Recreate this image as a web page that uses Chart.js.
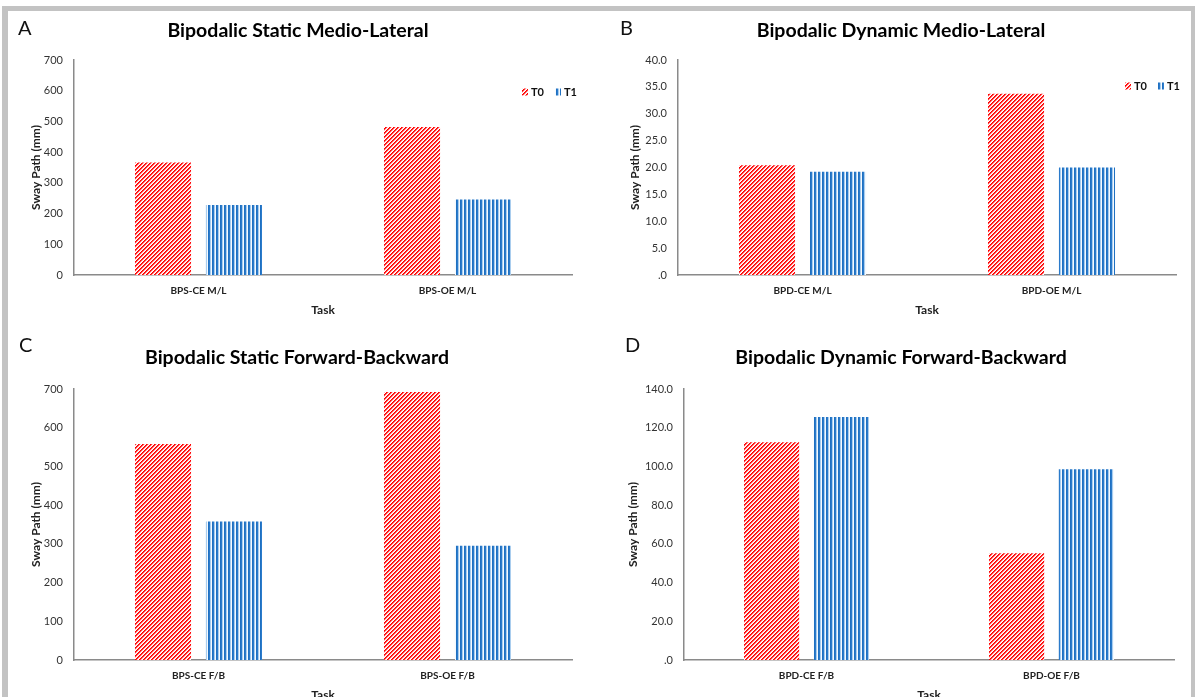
<!DOCTYPE html>
<html><head><meta charset="utf-8">
<script src="https://cdn.jsdelivr.net/npm/chart.js@4.4.0/dist/chart.umd.min.js"></script>
<style>
html,body{margin:0;padding:0;background:#fff;}
body{width:1196px;height:697px;overflow:hidden;position:relative;font-family:Lato,sans-serif;}
canvas{position:absolute;}
.letter{position:absolute;font-size:20px;color:#111;line-height:1;font-family:Lato,sans-serif;}
.frame{position:absolute;background:#c3c3c3;}
</style></head><body>
<canvas id="cA" width="598" height="330" style="left:0;top:0;width:598px;height:330px"></canvas>
<canvas id="cB" width="598" height="330" style="left:598px;top:0;width:598px;height:330px"></canvas>
<canvas id="cC" width="598" height="400" style="left:0;top:330px;width:598px;height:400px"></canvas>
<canvas id="cD" width="598" height="400" style="left:598px;top:330px;width:598px;height:400px"></canvas>
<div class="letter" style="left:18px;top:17px">A</div>
<div class="letter" style="left:620px;top:17px">B</div>
<div class="letter" style="left:19px;top:334px">C</div>
<div class="letter" style="left:625px;top:334px">D</div>
<div class="frame" style="left:2px;top:6px;width:1193px;height:5px"></div>
<div class="frame" style="left:2px;top:6px;width:6px;height:691px"></div>
<div class="frame" style="left:1191px;top:6px;width:4px;height:691px"></div>
<script>
// ---- data ----
const seriesNames = ['T0', 'T1'];

const titleA = 'Bipodalic Static Medio-Lateral';
const catsA = ['BPS-CE M/L', 'BPS-OE M/L'];
const t0A = [366, 482];
const t1A = [228, 246];
const yTicksA = ['0', '100', '200', '300', '400', '500', '600', '700'];

const titleB = 'Bipodalic Dynamic Medio-Lateral';
const catsB = ['BPD-CE M/L', 'BPD-OE M/L'];
const t0B = [20.4, 33.7];
const t1B = [19.2, 20.0];
const yTicksB = ['.0', '5.0', '10.0', '15.0', '20.0', '25.0', '30.0', '35.0', '40.0'];

const titleC = 'Bipodalic Static Forward-Backward';
const catsC = ['BPS-CE F/B', 'BPS-OE F/B'];
const t0C = [558, 692];
const t1C = [358, 295];
const yTicksC = ['0', '100', '200', '300', '400', '500', '600', '700'];

const titleD = 'Bipodalic Dynamic Forward-Backward';
const catsD = ['BPD-CE F/B', 'BPD-OE F/B'];
const t0D = [112.5, 55.2];
const t1D = [125.5, 98.5];
const yTicksD = ['.0', '20.0', '40.0', '60.0', '80.0', '100.0', '120.0', '140.0'];

const axisTitleY = 'Sway Path (mm)';
const axisTitleX = 'Task';

// ---- patterns ----
function makeTile(w, h, fn) {
  const c = document.createElement('canvas');
  c.width = w; c.height = h;
  const x = c.getContext('2d');
  for (let i = 0; i < w; i++) for (let j = 0; j < h; j++) { x.fillStyle = fn(i, j); x.fillRect(i, j, 1, 1); }
  return x.createPattern(c, 'repeat');
}
const redCols = ['#ff0000', '#ff3535', '#ffd2d2', '#ffffff'];
const redPat = makeTile(4, 4, (i, j) => redCols[(i + j) % 4]);
const blueCols = ['#1f70c1', '#2b7bcb', '#a9cdee', '#f4f9fe'];
const bluePat = makeTile(4, 1, (i) => blueCols[i]);

const FONT = 'Lato';

const cornerLegend = {
  id: 'cornerLegend',
  afterDraw(chart, args, opts) {
    if (!opts || !opts.show) return;
    const ctx = chart.ctx;
    ctx.save();
    let x = opts.x; const y = opts.y;
    ctx.font = 'bold 11px ' + FONT;
    ctx.textBaseline = 'middle';
    chart.data.datasets.forEach(ds => {
      ctx.fillStyle = ds.backgroundColor;
      ctx.fillRect(x, y - 3.5, 6, 7);
      x += 9;
      ctx.fillStyle = '#111';
      ctx.fillText(ds.label, x, y);
      x += ctx.measureText(ds.label).width + 11;
    });
    ctx.restore();
  }
};

function makeChart(id, p) {
  const ticks = p.yTicks;
  const maxV = Number(ticks[ticks.length - 1]);
  const step = Number(ticks[1]);
  return new Chart(document.getElementById(id), {
    type: 'bar',
    data: {
      labels: p.cats,
      datasets: [
        { label: seriesNames[0], data: p.t0, backgroundColor: redPat, borderWidth: 0, categoryPercentage: 0.57, barPercentage: 0.79 },
        { label: seriesNames[1], data: p.t1, backgroundColor: bluePat, borderWidth: 0, categoryPercentage: 0.57, barPercentage: 0.79 }
      ]
    },
    options: {
      responsive: false, animation: false, devicePixelRatio: 1,
      layout: { padding: { left: p.padLeft, right: p.padRight, top: 0, bottom: 0 } },
      plugins: {
        legend: { display: false },
        tooltip: { enabled: false },
        title: { display: true, text: p.title, color: '#000',
          font: { family: FONT, size: 19.5, weight: 'bold' },
          padding: { top: p.tTop, bottom: p.tBot } },
        cornerLegend: p.legend
      },
      scales: {
        x: {
          grid: { display: false, drawTicks: false },
          border: { display: true, color: '#8a8a8a', width: 1.5 },
          ticks: { font: { family: FONT, size: 10, weight: 'bold' }, color: '#222', padding: 10 },
          title: { display: true, text: axisTitleX, color: '#222', font: { family: FONT, size: 12, weight: 'bold' }, padding: { top: 0, bottom: p.xtPad } },
          afterFit: s => { s.height = p.xH; }
        },
        y: {
          min: 0, max: maxV,
          grid: { display: false, drawTicks: false },
          border: { display: true, color: '#8a8a8a', width: 1.5 },
          ticks: { stepSize: step, font: { family: FONT, size: 11 }, color: '#333', padding: 11,
            callback: (v, i) => ticks[i] },
          title: { display: true, text: axisTitleY, color: '#222', font: { family: FONT, size: 12, weight: 'bold' }, padding: { top: p.ytPad, bottom: 0 } },
          afterFit: s => { s.width = p.yW; }
        }
      }
    },
    plugins: [cornerLegend]
  });
}

// title centre = (padLeft + 598 - padRight)/2 ; y-title centre = padLeft + 7.2 + ytPad
makeChart('cA', { title: titleA, cats: catsA, t0: t0A, t1: t1A, yTicks: yTicksA,
  padLeft: 24, padRight: 26, tTop: 19.3, tBot: 17.3, xH: 55, xtPad: 12.8, yW: 50, ytPad: 4.8,
  legend: { show: true, x: 522, y: 92 } });
makeChart('cB', { title: titleB, cats: catsB, t0: t0B, t1: t1B, yTicks: yTicksB,
  padLeft: 28, padRight: 20, tTop: 19.3, tBot: 17.3, xH: 55, xtPad: 12.8, yW: 52, ytPad: 1.8,
  legend: { show: true, x: 527, y: 86 } });
makeChart('cC', { title: titleC, cats: catsC, t0: t0C, t1: t1C, yTicks: yTicksC,
  padLeft: 22, padRight: 26, tTop: 16.3, tBot: 19.3, xH: 70, xtPad: 27.8, yW: 52, ytPad: 6.8,
  legend: { show: false } });
makeChart('cD', { title: titleD, cats: catsD, t0: t0D, t1: t1D, yTicks: yTicksD,
  padLeft: 30, padRight: 22, tTop: 16.3, tBot: 19.3, xH: 70, xtPad: 27.8, yW: 56, ytPad: -2.2,
  legend: { show: false } });
</script>
</body></html>
